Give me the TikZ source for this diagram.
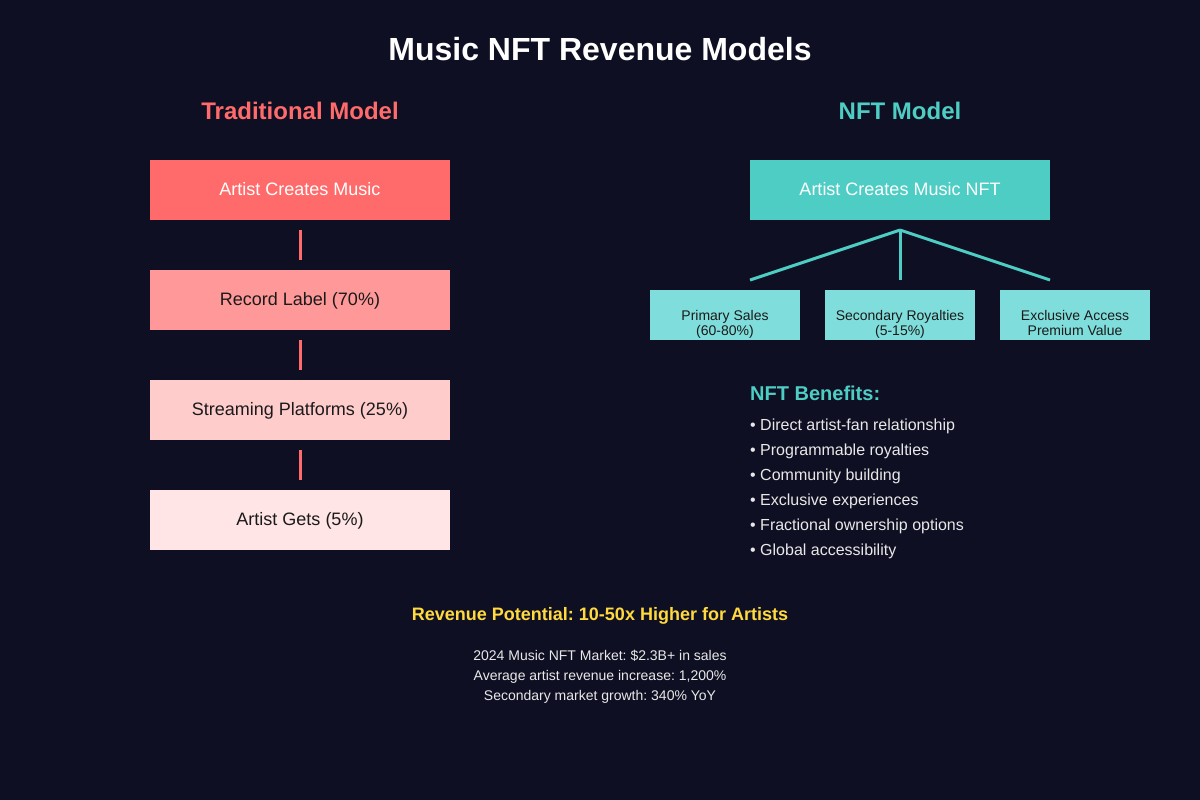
\documentclass[tikz,border=0pt]{standalone}
\usepackage{fontspec}
\setmainfont{Liberation Sans}
\usetikzlibrary{calc}
\frenchspacing
\definecolor{bg}{HTML}{0F0F23}
\definecolor{redA}{HTML}{FF6B6B}
\definecolor{redB}{HTML}{FF9999}
\definecolor{redC}{HTML}{FFCCCC}
\definecolor{redD}{HTML}{FFE5E5}
\definecolor{teal}{HTML}{4ECDC4}
\definecolor{tealL}{HTML}{7FDEDB}
\definecolor{gold}{HTML}{FFD93D}
\definecolor{darktext}{HTML}{1A1A1A}
\definecolor{lighttext}{HTML}{E8E8E8}
\begin{document}
\begin{tikzpicture}[x=1pt,y=-1pt,
  bigbox/.style={minimum width=300pt,minimum height=60pt,inner sep=0pt,
    text height=13pt,text depth=3pt,font=\fontsize{18}{22}\selectfont},
  subbox/.style={minimum width=150pt,minimum height=50pt,inner sep=0pt,fill=tealL},
  subtext/.style={anchor=base,inner sep=0pt,text=darktext,font=\fontsize{14}{16}\selectfont},
  redline/.style={draw=redA,line width=3pt,shorten >=10pt,shorten <=10pt},
  tealline/.style={draw=teal,line width=3pt},
  bullet/.style={anchor=base west,inner sep=0pt,text=lighttext,font=\fontsize{16}{19}\selectfont},
  foot/.style={anchor=base,inner sep=0pt,text=lighttext,font=\fontsize{14}{16}\selectfont}]
\fill[bg] (0,0) rectangle (1200,800);
\useasboundingbox (0,0) rectangle (1200,800);

\node[anchor=base,inner sep=0pt,text=white,font=\bfseries\fontsize{32}{38}\selectfont] (title) at (600,60) {Music NFT Revenue Models};
\node[anchor=base,inner sep=0pt,text=redA,font=\bfseries\fontsize{24}{28}\selectfont] (trad) at (300,119) {Traditional Model};
\node[anchor=base,inner sep=0pt,text=teal,font=\bfseries\fontsize{24}{28}\selectfont] (nftm) at (900,119) {NFT Model};

% traditional chain
\node[bigbox,fill=redA,text=white] (a1) at (300,190) {Artist Creates Music};
\node[bigbox,fill=redB,text=darktext] (a2) at (300,300) {Record Label (70\%)};
\node[bigbox,fill=redC,text=darktext] (a3) at (300,410) {Streaming Platforms (25\%)};
\node[bigbox,fill=redD,text=darktext] (a4) at (300,520) {Artist Gets (5\%)};
\draw[redline] (a1.south) -- (a2.north);
\draw[redline] (a2.south) -- (a3.north);
\draw[redline] (a3.south) -- (a4.north);

% NFT model
\node[bigbox,fill=teal,text=white] (n0) at (900,190) {Artist Creates Music NFT};
\coordinate (hub) at (900,230);
\coordinate (e1) at (750,280);
\coordinate (e2) at (900,280);
\coordinate (e3) at (1050,280);
\draw[tealline] (hub) -- (e1);
\draw[tealline] (hub) -- (e2);
\draw[tealline] (hub) -- (e3);

\node[subbox] (s1) at (725,315) {};
\node[subbox] (s2) at (900,315) {};
\node[subbox] (s3) at (1075,315) {};
\node[subtext] (s1a) at (725,320) {Primary Sales};
\node[subtext] (s1b) at (725,335) {(60-80\%)};
\node[subtext] (s2a) at (900,320) {Secondary Royalties};
\node[subtext] (s2b) at (900,335) {(5-15\%)};
\node[subtext] (s3a) at (1075,320) {Exclusive Access};
\node[subtext] (s3b) at (1075,335) {Premium Value};

% benefits
\node[anchor=base west,inner sep=0pt,text=teal,font=\bfseries\fontsize{20}{24}\selectfont] (ben) at (750,400) {NFT Benefits:};
\node[bullet] (b1) at (750,430) {• Direct artist-fan relationship};
\node[bullet] (b2) at (750,455) {• Programmable royalties};
\node[bullet] (b3) at (750,480) {• Community building};
\node[bullet] (b4) at (750,505) {• Exclusive experiences};
\node[bullet] (b5) at (750,530) {• Fractional ownership options};
\node[bullet] (b6) at (750,555) {• Global accessibility};

% bottom
\node[anchor=base,inner sep=0pt,text=gold,font=\bfseries\fontsize{18}{22}\selectfont] (rev) at (600,620) {Revenue Potential: 10-50x Higher for Artists};
\node[foot] (f1) at (600,660) {2024 Music NFT Market: \$2.3B+ in sales};
\node[foot] (f2) at (600,680) {Average artist revenue increase: 1,200\%};
\node[foot] (f3) at (600,700) {Secondary market growth: 340\% YoY};
\end{tikzpicture}
\end{document}
